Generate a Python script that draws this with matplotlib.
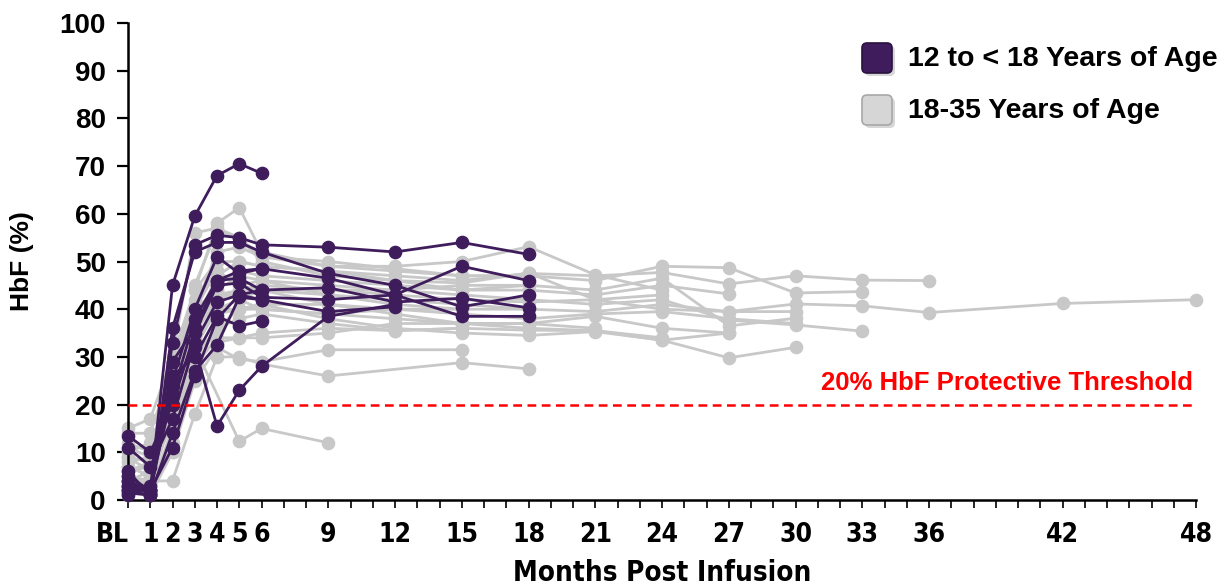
import numpy as np
import matplotlib
matplotlib.use("Agg")
import matplotlib.pyplot as plt
from matplotlib.patches import FancyBboxPatch
from matplotlib.transforms import ScaledTranslation

# Visit schedule (months post infusion); 0 = baseline
months = [0, 1, 2, 3, 4, 5, 6, 9, 12, 15, 18, 21, 24, 27, 30, 33, 36, 42, 48]
tick_months = [0, 1, 2, 3, 4, 5, 6, 9, 12, 15, 18, 21, 24, 27, 30, 33, 36, 42, 48]
tick_labels = ["BL", "1", "2", "3", "4", "5", "6", "9", "12", "15", "18", "21",
               "24", "27", "30", "33", "36", "42", "48"]
nan = np.nan

# HbF (%) per patient, aligned to `months`; nan = no sample at that visit
adolescents = [
    [3, 2, 45, 59.5, 68, 70.5, 68.5],
    [4, 1.5, 33, 53.5, 55.5, 55, 53.5, 53, 52, 54, 51.5],
    [2, 1, 36, 52, 54, 54, 52, 47.5, 45, 40.5, 43],
    [5, 2, 25, 40, 51, 47.5, 48.5, 46.5, 43, 38.5, 38.5],
    [1, 3, 22, 38, 46, 46.5, 44, 44.5, 41.5, 42.3, 40.3],
    [13.5, 10, 20, 35, 45, 45.5, 42.5, 42, 43, 49, 46],
    [11, 7, 17, 33, 41.5, 43, 42, 39.5, 40.5],
    [2, 2, 26, 30, 38.5, 36.5, 37.5],
    [6, 1, 14, 27, 32.5, 42.5, 42],
    [3, 1.5, 24, 32, 15.5, 23, 28, 38.5, 41],
    [1.5, 1, 29, 36, 46, 48, 48.5],
    [4, 2, 11, 26, 38, 43, 44],
]

adults = [
    [5, 3, 18, 35, 42, 44, 45, 44, 43, 42, 41.5, 42, 40, 39.5, 41.1, 40.7, 39.3, 41.2, 42],
    [9, 8, 25, 44, 50, 50, 49, 48, 47, 46, 47.5, 47, 47.7, 45.3, 47, 46.1, 46],
    [2, 4, 22, 40, 52, 53, 51, 50, 48.5, 47, 47, 46, 49, 48.7, 43.4, 43.7],
    [7, 5, 20, 36, 44, 47, 46, 45, 44, 43, 42, 41, 42, 37.7, 36.7, 35.4],
    [3, 2, 15, 30, 36, 40, 41, 38, 36, 35, 34.5, 35.3, 33.5, 29.8, 32],
    [12, 10, 28, 42, 48, 45, 44, 43, 42, 41, 40, 39.5, 41, 39.5, 39.5],
    [4, 6, 24, 38, 45, 48, 47, 46, 45, 44, 44, 43, 45, 43.2],
    [6, 7, 26, 45, 56.5, 55, 50, 47, 46, 44, 45, 44, 46.5, 36.5, 38.1],
    [1, 5, 18, 32, 40, 42, 40, 39, 38, 37, 37, 38.5, 36, 35],
    [15, 17, 30, 44, 58, 61.3, 52, 49, 49, 50, 53.1, 47.2, 44],
    [8, 9, 21, 37, 47, 50, 49, 48, 46, 45.5, 47.6, 42, 43],
    [3, 3, 12, 28, 34, 34, 35, 36, 35.5, 36, 35.6, 35.5, 34],
    [10, 12, 20, 30, 33, 34, 34, 35, 37, 37, 37, 36],
    [5, 4, 4, 18, 30, 30, 28.5, 26, nan, 28.8, 27.5],
    [9, 6, 16, 32, 40, 40, 40, 39, 40, 40, 40],
    [14, 14, 28, 40, 44, 42, 44, 44, 44, 45, 45],
    [2, 1, 10, 25, 32, 29.5, 29, 31.5, nan, 31.5],
    [6, 8, 25, 40, 48, 45, 46, 43, 41, 40],
    [3, 2, 10, 32, nan, 12.3, 15, 12],
    [7, 5, 22, 36, 43, 44, 44, 41, 39, 37, 36, 35.5, 33.5, 35],
    [11, 9, 19, 34, 39, 40, 41, 41, 40, 39, 38, 39, 39.5, 38, 37],
    [2, 1, 14, 28, 36, 38, 39, 37, 35.5, 36],
    [5, 3, 30, 56, 57, 55, 51, 49, 48, 47, 47],
]

threshold = 20

PURPLE = "#3f1d5c"
GREY = "#c8c8c8"
RED = "#ff0000"

fig = plt.figure(figsize=(12.28, 5.86), dpi=100)
ax = fig.add_axes([128 / 1228, 86 / 586, (1196 - 128) / 1228, (500 - 23) / 586])

def draw(series, color, z):
    for vals in series:
        x = np.array(months[:len(vals)], dtype=float)
        y = np.array(vals, dtype=float)
        ok = ~np.isnan(y)
        ax.plot(x[ok], y[ok], color=color, lw=2.0, marker="o", ms=8.8,
                mec=color, mfc=color, zorder=z, clip_on=False, solid_capstyle="round")

draw(adults, GREY, 2)
draw(adolescents, PURPLE, 3)

ax.axhline(threshold, color=RED, lw=1.8, ls=(0, (3.5, 2.2)), zorder=4)
ax.text(47.85, threshold + 4.6, "20% HbF Protective Threshold", color=RED,
        fontsize=18.5, fontweight="bold", ha="right", va="center",
        family=["Liberation Sans", "DejaVu Sans"])

ax.set_xlim(0, 48)
ax.set_ylim(0, 100)
ax.set_yticks(range(0, 101, 10))
ax.set_xticks(tick_months)
ax.set_xticks(range(0, 49), minor=True)
ax.set_xticklabels(tick_labels)

for s in ("top", "right"):
    ax.spines[s].set_visible(False)
for s in ("left", "bottom"):
    ax.spines[s].set_linewidth(1.8)
    ax.spines[s].set_color("black")

ax.tick_params(axis="y", length=8, width=1.6, direction="out", pad=8)
ax.tick_params(axis="x", which="both", length=6, width=1.2, direction="out", pad=10)

narrow = ["Liberation Sans Narrow", "DejaVu Sans"]
for lab in ax.get_yticklabels():
    lab.set_fontsize(20)
    lab.set_fontweight("bold")
    lab.set_family(["Liberation Sans", "DejaVu Sans"])
for lab in ax.get_xticklabels():
    lab.set_fontsize(19)
    lab.set_fontweight("bold")
    lab.set_family(narrow)
    lab.set_fontstretch("condensed")
# baseline label sits just left of the axis origin
bl = ax.get_xticklabels()[0]
bl.set_transform(bl.get_transform() + ScaledTranslation(-16 / 100, 0, fig.dpi_scale_trans))

ax.set_xlabel("Months Post Infusion", fontsize=20, fontweight="bold",
              family=narrow, fontstretch="condensed", labelpad=8)
ax.set_ylabel("HbF (%)", fontsize=19, fontweight="bold",
              family=["Liberation Sans", "DejaVu Sans"], labelpad=18)

# Legend drawn in pixel space on an overlay
ov = fig.add_axes([0, 0, 1, 1], facecolor="none")
ov.set_xlim(0, 1228)
ov.set_ylim(586, 0)
ov.axis("off")

legend_items = [("12 to < 18 Years of Age", PURPLE, "#2a1240", 59),
                ("18-35 Years of Age", "#d6d6d6", "#a8a8a8", 111)]
for label, fc, ec, yc in legend_items:
    shadow = FancyBboxPatch((865, yc - 13), 30, 30,
                            boxstyle="round,pad=0,rounding_size=5",
                            fc="#bdbdbd", ec="none", alpha=0.6, zorder=1)
    ov.add_patch(shadow)
    box = FancyBboxPatch((862, yc - 16), 30, 30,
                         boxstyle="round,pad=0,rounding_size=5",
                         fc=fc, ec=ec, lw=1.2, zorder=2)
    ov.add_patch(box)
    ov.text(908, yc, label, fontsize=20.5, fontweight="bold", va="center", ha="left",
            family=["Liberation Sans", "DejaVu Sans"], zorder=3)

fig.savefig("out.png", dpi=100)
